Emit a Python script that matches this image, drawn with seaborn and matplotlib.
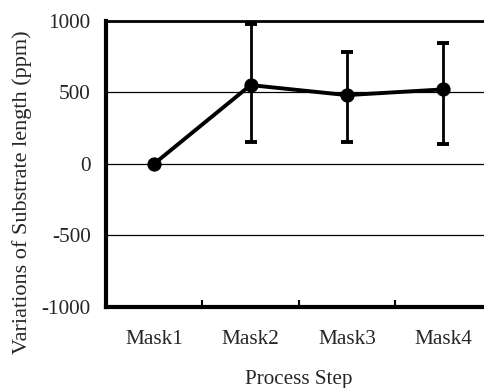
import pandas as pd
import seaborn as sns
import matplotlib.pyplot as plt
from matplotlib.ticker import FixedLocator

# Datos
steps = ['Mask1', 'Mask2', 'Mask3', 'Mask4']
variation = [0, 550, 480, 520]
err_low = [0, 395, 325, 380]
err_high = [0, 425, 300, 325]
y_ticks = [-1000, -500, 0, 500, 1000]

df = pd.DataFrame({'step': steps, 'variation': variation})

sns.set_style("white")
plt.rcParams['font.family'] = ['Liberation Serif', 'DejaVu Serif']

fig = plt.figure(figsize=(4.84, 3.88), dpi=100)
ax = fig.add_axes([0.219, 0.2095, 0.7965, 0.737])

# Linea con marcadores
sns.lineplot(x='step', y='variation', data=df, ax=ax, color='black',
             linewidth=2.8, marker='o', markersize=9.5, markeredgecolor='black',
             sort=False, zorder=4)

# Barras de error (solo Mask2-Mask4)
eb = df.iloc[1:]
ax.errorbar(eb['step'], eb['variation'],
            yerr=[err_low[1:], err_high[1:]],
            fmt='none', ecolor='black', elinewidth=2, capsize=4.5, capthick=2.8, zorder=3)

# Ejes
ax.set_xlim(-0.5, 3.5)
ax.set_ylim(-1000, 1000)
ax.set_yticks(y_ticks)
ax.set_yticklabels([str(v) for v in y_ticks], fontsize=15.3)
ax.tick_params(axis='y', length=0, pad=11)
ax.tick_params(axis='x', which='major', length=0, pad=17, labelsize=15.3)
ax.xaxis.set_minor_locator(FixedLocator([0.5, 1.5, 2.5]))
ax.tick_params(axis='x', which='minor', direction='in', length=5, width=1.5,
               color='black', bottom=True)

ax.yaxis.grid(True, color='black', linewidth=0.9)
ax.xaxis.grid(False)
ax.set_axisbelow(True)

ax.spines['left'].set_linewidth(3)
ax.spines['bottom'].set_linewidth(3)
ax.spines['top'].set_linewidth(2)
ax.spines['right'].set_visible(False)
for s in ['left', 'bottom', 'top']:
    ax.spines[s].set_color('black')

ax.set_xlabel('Process Step', fontsize=15.2, labelpad=15)
ax.set_ylabel('Variations of Substrate length (ppm)', fontsize=16)
ax.yaxis.set_label_coords(-0.192, 0.401)

plt.savefig('out.png', dpi=100)
